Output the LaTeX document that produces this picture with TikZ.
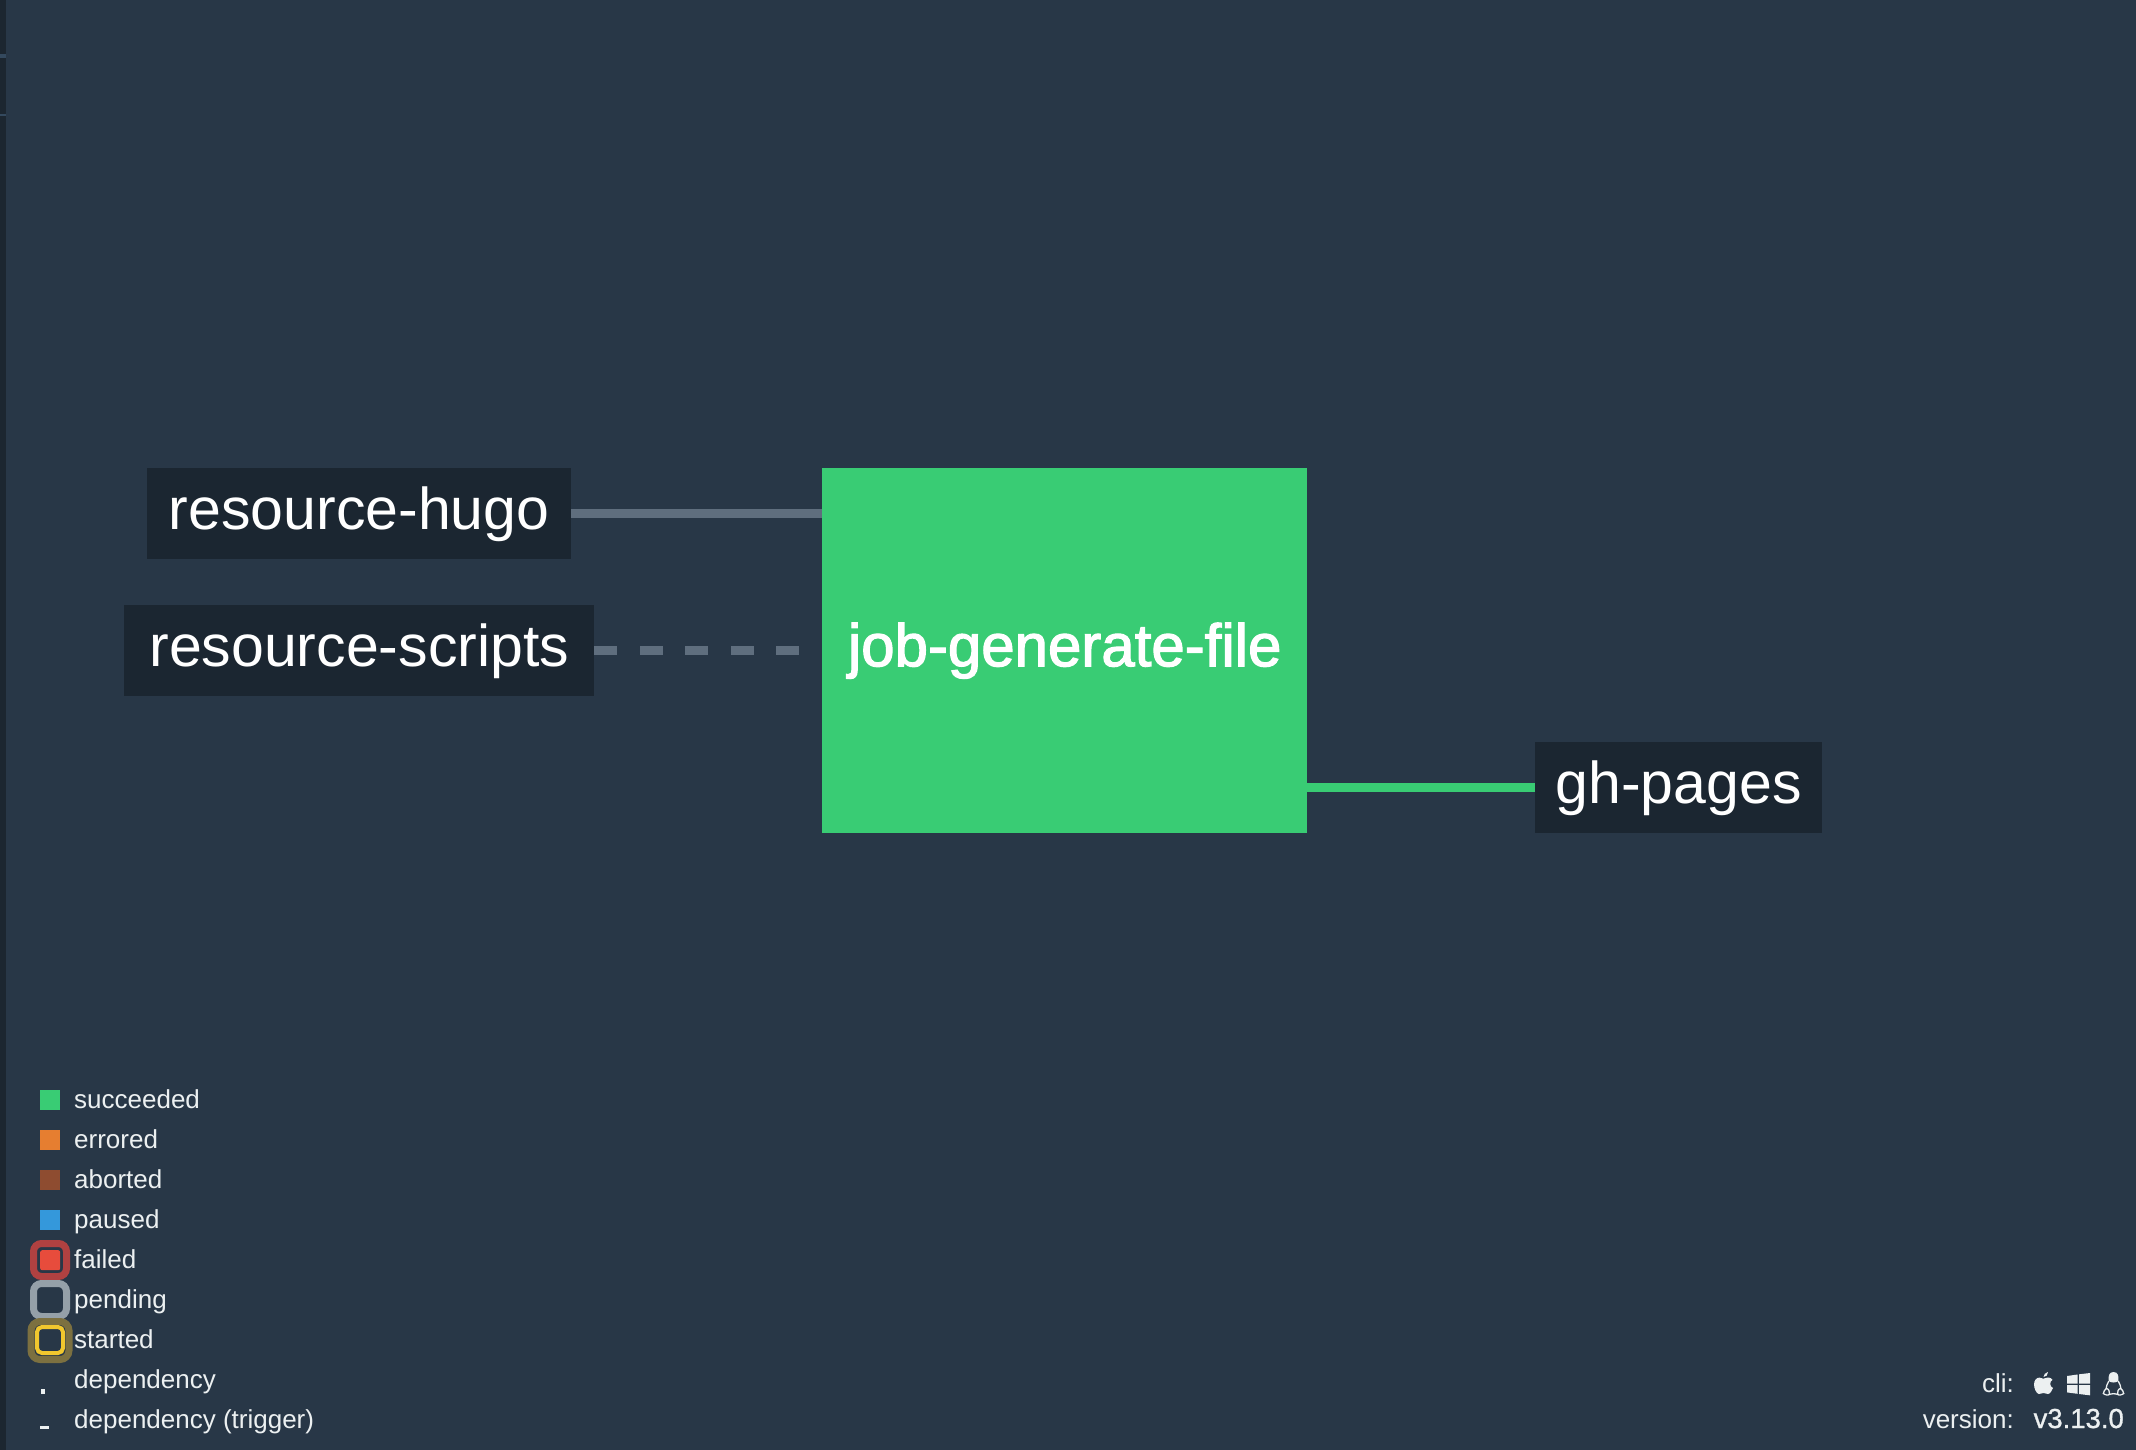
\documentclass[tikz,border=0pt]{standalone}
\usepackage{fontspec}
\setmainfont{Liberation Sans}
\newfontfamily\jobfont[FakeBold=2]{Liberation Sans}
\newfontfamily\verfont[FakeBold=1]{Liberation Sans}
\definecolor{bgc}{HTML}{283747}
\definecolor{strip}{HTML}{1C2630}
\definecolor{stripm}{HTML}{34495E}
\definecolor{nodec}{HTML}{1B2631}
\definecolor{greenc}{HTML}{39CC74}
\definecolor{linec}{HTML}{5F6E7E}
\definecolor{txt}{HTML}{ECF0F1}
\definecolor{orangec}{HTML}{E67E30}
\definecolor{brownc}{HTML}{8E4C30}
\definecolor{bluec}{HTML}{3498DB}
\definecolor{redc}{HTML}{E74C3C}
\definecolor{redo}{HTML}{B04141}
\definecolor{grayo}{HTML}{95A0A8}
\definecolor{yellowc}{HTML}{F1C72E}
\definecolor{yellowo}{HTML}{7C7040}
\tikzset{
 res/.style={fill=nodec,text=white,font=\fontsize{59}{59}\selectfont,minimum height=91pt,inner sep=0pt,anchor=north west,text height=42pt,text depth=11pt},
 jobn/.style={fill=greenc,text=white,font=\jobfont\fontsize{60}{60}\selectfont,inner sep=0pt,anchor=north west,minimum width=485pt,minimum height=365pt,text height=42pt,text depth=11pt},
 conn/.style={line width=9.3pt},
 sw/.style={minimum size=20pt,inner sep=0pt,anchor=north west},
 leg/.style={text=txt,font=\fontsize{26}{26}\selectfont,anchor=base west,inner sep=0pt},
 ring/.style={rounded corners=8pt,line width=7pt},
 ver/.style={text=txt,font=\fontsize{26}{26}\selectfont,anchor=base east,inner sep=0pt},
 vernum/.style={text=txt,font=\verfont\fontsize{27.5}{27.5}\selectfont,anchor=base east,inner sep=0pt}
}
\begin{document}
\begin{tikzpicture}[x=1pt,y=-1pt]
\useasboundingbox (0,0) rectangle (2136,1450);
\fill[bgc] (0,0) rectangle (2136,1450);
\fill[strip] (0,0) rectangle (6,1450);
\fill[stripm] (0,54) rectangle (6,58);
\fill[stripm] (0,114) rectangle (6,116);
% graph
\node[res,minimum width=424pt] (hugo) at (147,468) {resource-hugo};
\node[res,minimum width=470pt] (scripts) at (124,605) {resource-scripts};
\node[jobn] (job) at (822,468) {job-generate-file};
\node[res,minimum width=287pt] (pages) at (1535,742) {gh-pages};
\draw[conn,linec] (hugo.east) -- (hugo.east -| job.west);
\draw[conn,linec,dash pattern=on 23pt off 22.5pt,shorten >=20pt] (scripts.east) -- (scripts.east -| job.west);
\draw[conn,greenc] (pages.west -| job.east) -- (pages.west);
% legend
\node[sw,fill=greenc] (s1) at (40,1090) {};
\node[sw,fill=orangec] (s2) at (40,1130) {};
\node[sw,fill=brownc] (s3) at (40,1170) {};
\node[sw,fill=bluec] (s4) at (40,1210) {};
\draw[ring,redo] (33.5,1243.5) rectangle (66.5,1276.5);
\node[sw,fill=redc,rounded corners=2pt] (s5) at (40,1250) {};
\draw[ring,grayo] (33.5,1283.5) rectangle (66.5,1316.5);
\draw[line width=7pt,rounded corners=9pt,yellowo] (31,1321.5) rectangle (69,1359.5);
\draw[line width=4pt,rounded corners=5pt,yellowc] (37,1327) rectangle (63,1353);
\fill[txt] (41,1389) rectangle (45,1394);
\fill[txt] (40,1426) rectangle (49,1429);
\node[leg] (l1) at (74,1108) {succeeded};
\node[leg] (l2) at (74,1148) {errored};
\node[leg] (l3) at (74,1188) {aborted};
\node[leg] (l4) at (74,1228) {paused};
\node[leg] (l5) at (74,1268) {failed};
\node[leg] (l6) at (74,1308) {pending};
\node[leg] (l7) at (74,1348) {started};
\node[leg] (l8) at (74,1388) {dependency};
\node[leg] (l9) at (74,1428) {dependency (trigger)};
% version
\node[ver] (cli) at (2014,1392) {cli:};
\node[ver] (verl) at (2014,1428) {version:};
\node[vernum] (vern) at (2124,1428) {v3.13.0};
% apple icon
\begin{scope}[shift={(2034,1372)}]
\fill[txt] (9.5,5) .. controls (9.5,2.5) and (11.5,0.5) .. (14,0) .. controls (14.2,2.8) and (12,5) .. (9.5,5) -- cycle;
\fill[txt] (9.5,6.7) .. controls (11.5,6.2) and (13,5.3) .. (14.5,5.5) .. controls (16.2,5.6) and (17.6,6.4) .. (18.5,7.8) .. controls (15.2,9.8) and (15.6,14.6) .. (19,16) .. controls (18,18.6) and (16,22) .. (14,22) .. controls (12.4,22) and (11.3,21) .. (9.5,21) .. controls (7.7,21) and (6.6,22) .. (5,22) .. controls (2.5,22) and (0,16.5) .. (0,12.5) .. controls (0,8) and (2.8,5.6) .. (5.4,5.6) .. controls (6.8,5.6) and (8.3,6.4) .. (9.5,6.7) -- cycle;
\end{scope}
% windows icon
\fill[txt] (2067,1376) -- (2077.5,1374.5) -- (2077.5,1383.5) -- (2067,1383.5) -- cycle;
\fill[txt] (2079,1374.3) -- (2090,1373) -- (2090,1383.5) -- (2079,1383.5) -- cycle;
\fill[txt] (2067,1385) -- (2077.5,1385) -- (2077.5,1393.8) -- (2067,1392.4) -- cycle;
\fill[txt] (2079,1385) -- (2090,1385) -- (2090,1395.3) -- (2079,1394) -- cycle;
% linux icon
\begin{scope}[shift={(2103,1372)},line width=1.3pt]
\fill[txt] (5.8,9) .. controls (5,4) and (6,0) .. (10.5,0) .. controls (15,0) and (16,4) .. (15.2,9) .. controls (13,11) and (8,11) .. (5.8,9) -- cycle;
\draw[txt] (5.8,9) .. controls (4.5,12) and (3,14) .. (3,17) (15.2,9) .. controls (16.5,12) and (18,14) .. (18,17) (6,22.5) .. controls (8.5,21.5) and (12.5,21.5) .. (15,22.5);
\draw[txt] (3.5,16.5) .. controls (5.5,16.5) and (7,20) .. (6.5,22) .. controls (5.5,24.2) and (1.5,22.5) .. (0.3,21.5) .. controls (1.5,19.5) and (1,17) .. (3.5,16.5) -- cycle;
\draw[txt] (17.5,16.5) .. controls (15.5,16.5) and (14,20) .. (14.5,22) .. controls (15.5,24.2) and (19.5,22.5) .. (20.7,21.5) .. controls (19.5,19.5) and (20,17) .. (17.5,16.5) -- cycle;
\end{scope}
\end{tikzpicture}
\end{document}
